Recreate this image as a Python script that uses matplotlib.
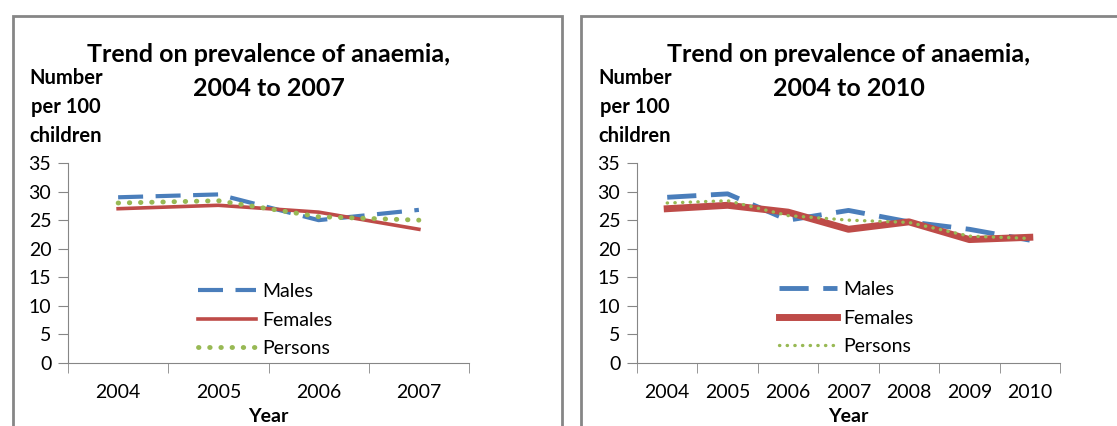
import matplotlib
matplotlib.use("Agg")
import matplotlib.pyplot as plt
from matplotlib.patches import Rectangle

plt.rcParams['font.family'] = ['Lato', 'DejaVu Sans']

# data
years_a = ['2004', '2005', '2006', '2007']
males_a = [29.0, 29.5, 25.0, 26.8]
females_a = [27.0, 27.6, 26.4, 23.4]
persons_a = [28.0, 28.4, 25.6, 25.0]

years_b = ['2004', '2005', '2006', '2007', '2008', '2009', '2010']
males_b = [29.0, 29.6, 25.0, 26.7, 24.7, 23.4, 21.5]
females_b = [27.0, 27.6, 26.4, 23.4, 24.7, 21.6, 22.0]
persons_b = [28.0, 28.4, 25.8, 25.0, 24.6, 22.2, 21.8]

W, H = 1117, 426
fig = plt.figure(figsize=(W / 100, H / 100), dpi=100)

BLUE = '#4A7EBB'
RED = '#BE4B48'
GREEN = '#98B954'
GREY = '#868686'


def px_axes(x0, y0, x1, y1):
    return fig.add_axes([x0 / W, 1 - y1 / H, (x1 - x0) / W, (y1 - y0) / H])


def panel(frame, box, years, males, females, persons, title, widths, leg_xy):
    fx0, fy0, fx1 = frame
    fig.add_artist(Rectangle((fx0 / W, -0.05), (fx1 - fx0) / W, 1 - fy0 / H + 0.05,
                             transform=fig.transFigure, fill=False,
                             edgecolor=GREY, lw=2))
    ax = px_axes(*box)
    x = range(len(years))
    lw_m, lw_f, lw_p = widths
    ax.plot(x, males, color=BLUE, lw=lw_m, dashes=(6, 3), label='Males')
    ax.plot(x, females, color=RED, lw=lw_f, label='Females')
    ax.plot(x, persons, color=GREEN, lw=lw_p, dashes=(0.1, 2.2),
            dash_capstyle='round', label='Persons')
    ax.set_xlim(-0.5, len(years) - 0.5)
    ax.set_ylim(0, 35)
    ax.set_yticks(range(0, 36, 5))
    ax.set_xticks(list(x))
    ax.set_xticklabels(years)
    ax.set_xticks([i - 0.5 for i in range(len(years) + 1)], minor=True)
    ax.tick_params(axis='x', which='major', length=0, pad=15, labelsize=14)
    ax.tick_params(axis='x', which='minor', length=7, color=GREY, direction='out')
    ax.tick_params(axis='y', length=7, color=GREY, labelsize=14, pad=5)
    for s in ['top', 'right']:
        ax.spines[s].set_visible(False)
    for s in ['left', 'bottom']:
        ax.spines[s].set_color(GREY)
    cx = (box[0] + box[2]) / 2
    ax.text(cx / W, 1 - 416 / H, 'Year', transform=fig.transFigure,
            ha='center', va='center', fontsize=14, fontweight='bold')
    for i, line in enumerate(title):
        fig.text(cx / W, 1 - (55 + 33 * i) / H, line, ha='center', va='center',
                 fontsize=18, fontweight='bold')
    for i, line in enumerate(['Number', 'per 100', 'children']):
        fig.text((box[0] - 2) / W, 1 - (78 + 29 * i) / H, line,
                 ha='center', va='center', fontsize=14.5, fontweight='bold')
    lx, ly = leg_xy
    ax.legend(loc='center left', frameon=False, fontsize=14,
              bbox_to_anchor=(lx / W, 1 - ly / H), bbox_transform=fig.transFigure,
              handlelength=3.0, handletextpad=0.3, labelspacing=0.6, borderpad=0,
              borderaxespad=0)
    return ax


panel((13, 16, 562), (68, 163, 469, 363), years_a, males_a, females_a, persons_a,
      ['Trend on prevalence of anaemia,', '2004 to 2007'], (3, 2.6, 3.5), (198, 320))
panel((581, 16, 1125), (637, 163, 1060, 363), years_b, males_b, females_b, persons_b,
      ['Trend on prevalence of anaemia,', '2004 to 2010'], (3.5, 5, 2.4), (779, 318))

fig.savefig('out.png', dpi=100)
